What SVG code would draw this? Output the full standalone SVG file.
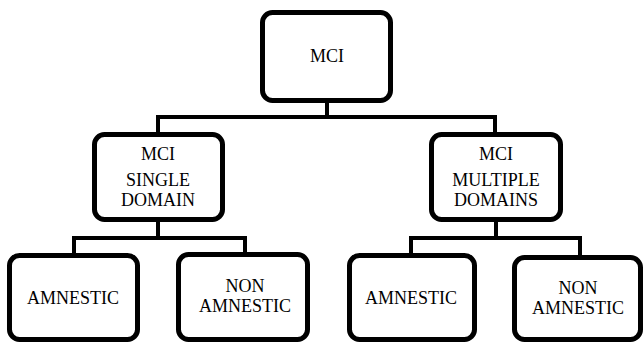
<svg xmlns="http://www.w3.org/2000/svg" width="644" height="343" viewBox="0 0 644 343">
<style>
.box{fill:#fff;stroke:#000;stroke-width:5}
.conn{fill:none;stroke:#000;stroke-width:4;stroke-linejoin:miter}
text{font-family:"Liberation Serif","Times New Roman",serif;font-size:18px;fill:#000;text-anchor:middle}
</style>
<rect width="644" height="343" fill="#fff"/>
<g id="connectors">
<path class="conn" d="M327,101 V117 M158,133 V117 H495 V133"/>
<path class="conn" d="M158,220 V238 M74,254 V238 H245 V254"/>
<path class="conn" d="M496,220 V238 M411,254 V238 H580 V257"/>
</g>
<g id="mci"><rect class="box" x="262.5" y="12.5" width="128" height="88" rx="10"/><text x="327" y="62">MCI</text></g>
<g id="single"><rect class="box" x="94.5" y="134.5" width="128" height="85" rx="10"/><text x="158" y="160">MCI</text><text x="158" y="186">SINGLE</text><text x="158" y="206">DOMAIN</text></g>
<g id="multiple"><rect class="box" x="431.5" y="134.5" width="129" height="85" rx="10"/><text x="496" y="160">MCI</text><text x="496" y="186">MULTIPLE</text><text x="496" y="206">DOMAINS</text></g>
<g id="s-amnestic"><rect class="box" x="9.5" y="255.5" width="128" height="84" rx="10"/><text x="73" y="304">AMNESTIC</text></g>
<g id="s-non"><rect class="box" x="178.5" y="254.5" width="129" height="85" rx="10"/><text x="245" y="292">NON</text><text x="245" y="312">AMNESTIC</text></g>
<g id="m-amnestic"><rect class="box" x="349.5" y="255.5" width="125" height="84" rx="10"/><text x="411" y="304">AMNESTIC</text></g>
<g id="m-non"><rect class="box" x="514.5" y="257.5" width="126" height="82" rx="10"/><text x="578" y="294">NON</text><text x="578" y="314">AMNESTIC</text></g>
</svg>
